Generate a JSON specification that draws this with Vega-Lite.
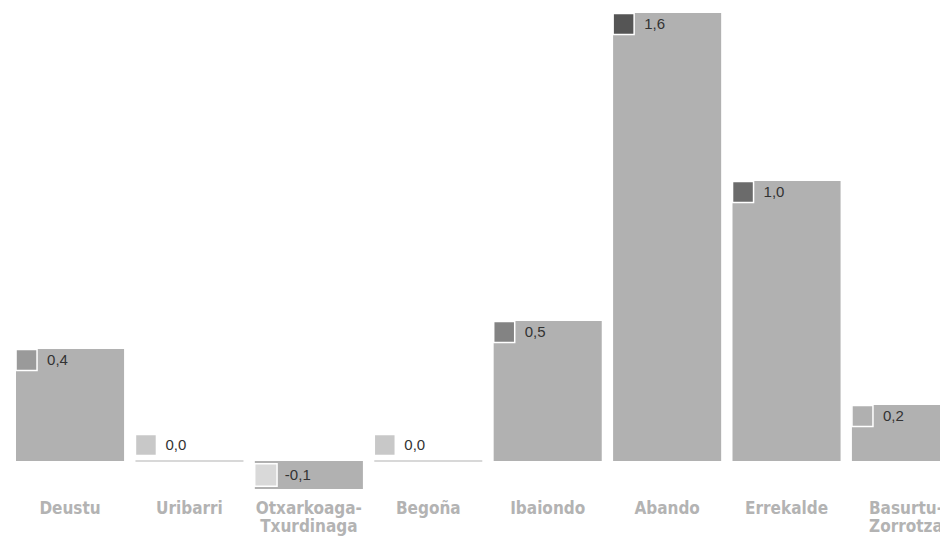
{
  "$schema": "https://vega.github.io/schema/vega-lite/v6.json",
  "autosize": {"type": "none"},
  "padding": {"left": 16, "top": 13, "right": 0, "bottom": 47},
  "width": 944,
  "height": 476,
  "background": "white",
  "config": {
    "view": {"stroke": null},
    "locale": {"number": {"decimal": ",", "thousands": ".", "grouping": [3], "currency": ["", " €"], "minus": "-"}}
  },
  "data": {
    "values": [
      {"barrio": "Deustu", "valor": 0.4},
      {"barrio": "Uribarri", "valor": 0.0},
      {"barrio": "Otxarkoaga-Txurdinaga", "valor": -0.1},
      {"barrio": "Begoña", "valor": 0.0},
      {"barrio": "Ibaiondo", "valor": 0.5},
      {"barrio": "Abando", "valor": 1.6},
      {"barrio": "Errekalde", "valor": 1.0},
      {"barrio": "Basurtu-Zorrotza", "valor": 0.2}
    ]
  },
  "encoding": {
    "x": {
      "field": "barrio", "type": "nominal", "sort": null,
      "scale": {"paddingInner": 0.095, "paddingOuter": 0},
      "axis": {
        "title": null, "domain": false, "ticks": false, "labelAngle": 0,
        "labelPadding": 11,
        "labelFont": "DejaVu Sans Condensed", "labelFontWeight": "bold",
        "labelFontSize": 17, "labelColor": "#b3b3b3", "labelLineHeight": 18,
        "labelBaseline": "top", "labelOverlap": false, "labelBound": false,
        "labelExpr": "indexof(datum.value,'-')>0 ? [slice(datum.value,0,indexof(datum.value,'-')+1), slice(datum.value,indexof(datum.value,'-')+1)] : datum.value"
      }
    }
  },
  "layer": [
    {
      "mark": {"type": "bar", "color": "#b1b1b1"},
      "encoding": {
        "y": {"field": "valor", "type": "quantitative", "scale": {"domain": [-0.1, 1.6], "nice": false, "zero": false}, "axis": null}
      }
    },
    {
      "transform": [{"filter": "datum.valor == 0"}],
      "mark": {"type": "tick", "orient": "horizontal", "size": 108, "thickness": 1, "color": "#b1b1b1", "opacity": 1},
      "encoding": {"y": {"field": "valor", "type": "quantitative"}}
    },
    {
      "transform": [{"filter": "datum.valor > 0"}],
      "mark": {"type": "square", "size": 441, "opacity": 1, "filled": true, "stroke": "white", "strokeWidth": 1.5, "xOffset": -43.5, "yOffset": 11},
      "encoding": {
        "y": {"field": "valor", "type": "quantitative"},
        "color": {"field": "valor", "type": "quantitative", "legend": null,
          "scale": {"domain": [-0.1, 0, 0.2, 0.4, 0.5, 1.0, 1.6], "range": ["#d9d9d9", "#c8c8c8", "#b0b0b0", "#9a9a9a", "#838383", "#6b6b6b", "#555555"]}}
      }
    },
    {
      "transform": [{"filter": "datum.valor == 0"}],
      "mark": {"type": "square", "size": 441, "opacity": 1, "filled": true, "stroke": "white", "strokeWidth": 1.5, "xOffset": -43.5, "yOffset": -16},
      "encoding": {
        "y": {"field": "valor", "type": "quantitative"},
        "color": {"field": "valor", "type": "quantitative", "legend": null}
      }
    },
    {
      "transform": [{"filter": "datum.valor < 0"}],
      "mark": {"type": "square", "size": 500, "opacity": 1, "filled": true, "stroke": "white", "strokeWidth": 1.5, "xOffset": -43, "yOffset": 14},
      "encoding": {
        "y": {"datum": 0, "type": "quantitative"},
        "color": {"field": "valor", "type": "quantitative", "legend": null}
      }
    },
    {
      "transform": [{"filter": "datum.valor > 0"}],
      "mark": {"type": "text", "align": "left", "baseline": "middle", "xOffset": -23, "yOffset": 11, "font": "Liberation Sans", "fontSize": 15, "color": "#333333"},
      "encoding": {"y": {"field": "valor", "type": "quantitative"}, "text": {"field": "valor", "type": "quantitative", "format": ".1f"}}
    },
    {
      "transform": [{"filter": "datum.valor == 0"}],
      "mark": {"type": "text", "align": "left", "baseline": "middle", "xOffset": -24, "yOffset": -16, "font": "Liberation Sans", "fontSize": 15, "color": "#333333"},
      "encoding": {"y": {"field": "valor", "type": "quantitative"}, "text": {"field": "valor", "type": "quantitative", "format": ".1f"}}
    },
    {
      "transform": [{"filter": "datum.valor < 0"}],
      "mark": {"type": "text", "align": "left", "baseline": "middle", "xOffset": -24, "yOffset": 14, "font": "Liberation Sans", "fontSize": 15, "color": "#333333"},
      "encoding": {"y": {"datum": 0, "type": "quantitative"}, "text": {"field": "valor", "type": "quantitative", "format": ".1f"}}
    }
  ]
}
